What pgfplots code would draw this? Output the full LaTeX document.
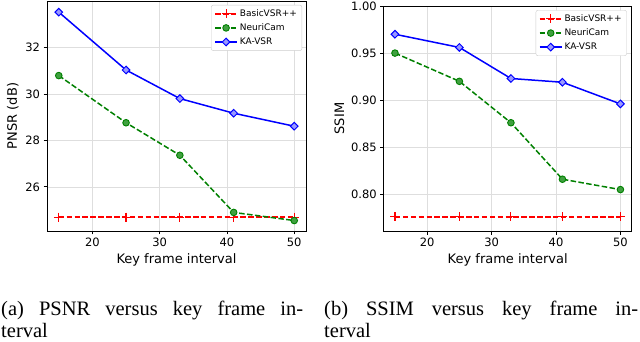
\documentclass[border=0pt]{standalone}
\usepackage{pgfplots}
\pgfplotsset{compat=1.18}
\usepackage{fontspec}
\setmainfont{DejaVu Sans}
\newfontfamily\capfont{Liberation Serif}

\definecolor{mplred}{HTML}{FF0000}
\definecolor{mplgreen}{HTML}{008000}
\definecolor{mplblue}{HTML}{0000FF}

\pgfplotsset{
  panel/.style={
    scale only axis,
    xmin=13.25, xmax=51.75,
    xtick={20,30,40,50},
    tick align=outside, major tick length=3.5pt,
    xtick pos=left, ytick pos=left,
    tick style={black, line width=0.8pt},
    axis line style={line width=0.8pt},
    grid=major, grid style={black!13, line width=0.6pt},
    /pgf/number format/assume math mode=true,
    tick label style={font=\fontsize{11.5}{13}\selectfont},
    label style={font=\fontsize{13}{15}\selectfont},
    xlabel={Key frame interval},
    legend cell align=left,
    legend style={font=\fontsize{9}{10}\selectfont, anchor=north east,
                  draw=black!20, rounded corners=2pt, fill=white,
                  inner xsep=3pt, inner ysep=2.5pt, row sep=1.8pt},
    legend image code/.code={
      \draw[mark repeat=2,mark phase=2] plot coordinates {(0pt,0pt)(11pt,0pt)(22pt,0pt)};
    },
  },
  bvsrline/.style={color=mplred, line width=1.6pt, dash pattern=on 5.5pt off 2.4pt,
                mark=+, mark size=4.5pt, mark options={solid, mplred, line width=1.1pt}},
  ncamline/.style={color=mplgreen, line width=1.5pt, dash pattern=on 5.5pt off 2.4pt,
                mark=*, mark size=3.3pt, mark options={solid, line width=0.9pt, fill=mplgreen!75!white}},
  kavsrline/.style={color=mplblue, line width=1.5pt,
                mark=square*, mark size=2.7pt, mark options={solid, rotate=45, line width=1pt, fill=mplblue!40!white}},
}

\begin{document}
\begin{tikzpicture}
\path[use as bounding box] (0pt,0pt) rectangle (640pt,-341pt);

% PSNR panel
\begin{axis}[panel,
  at={(47pt,-1pt)}, anchor=north west,
  width=259pt, height=230pt,
  ymin=24.1, ymax=34.0,
  ytick={26,28,30,32},
  ylabel={PNSR (dB)},
  legend style={at={(0.985,0.983)}},
]
\addplot[bvsrline] coordinates {(15,24.70) (25,24.70) (33,24.70) (41,24.70) (50,24.70)};
\addlegendentry{BasicVSR++}
\addplot[ncamline] coordinates {(15,30.79) (25,28.76) (33,27.36) (41,24.90) (50,24.55)};
\addlegendentry{NeuriCam}
\addplot[kavsrline] coordinates {(15,33.52) (25,31.03) (33,29.80) (41,29.17) (50,28.61)};
\addlegendentry{KA-VSR}
\end{axis}

% SSIM panel
\begin{axis}[panel,
  at={(383.7pt,-6pt)}, anchor=north west,
  width=248pt, height=225pt,
  ymin=0.761, ymax=1.0,
  ytick={0.80,0.85,0.90,0.95,1.00},
  yticklabel style={/pgf/number format/fixed, /pgf/number format/fixed zerofill, /pgf/number format/precision=2},
  ylabel={SSIM},
  legend style={at={(0.98,0.982)}},
]
\addplot[bvsrline] coordinates {(15,0.776) (25,0.776) (33,0.776) (41,0.776) (50,0.776)};
\addlegendentry{BasicVSR++}
\addplot[ncamline] coordinates {(15,0.950) (25,0.920) (33,0.876) (41,0.816) (50,0.805)};
\addlegendentry{NeuriCam}
\addplot[kavsrline] coordinates {(15,0.970) (25,0.956) (33,0.923) (41,0.919) (50,0.896)};
\addlegendentry{KA-VSR}
\end{axis}

\node[anchor=base west, inner sep=0pt] at (1pt,-315pt)
  {\capfont\fontsize{20.5}{24}\selectfont\makebox[302pt][s]{(a) PSNR versus key frame in-}};
\node[anchor=base west, inner sep=0pt] at (1pt,-337.5pt)
  {\capfont\fontsize{20.5}{24}\selectfont terval};
\node[anchor=base west, inner sep=0pt] at (324pt,-315pt)
  {\capfont\fontsize{20.5}{24}\selectfont\makebox[314pt][s]{(b) SSIM versus key frame in-}};
\node[anchor=base west, inner sep=0pt] at (324pt,-337.5pt)
  {\capfont\fontsize{20.5}{24}\selectfont terval};
\end{tikzpicture}
\end{document}
